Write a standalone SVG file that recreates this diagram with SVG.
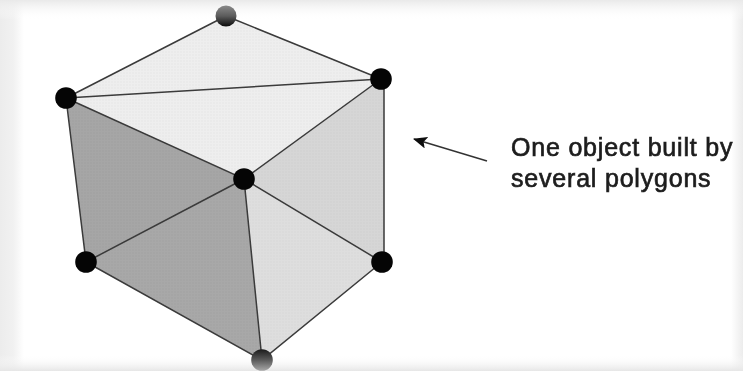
<svg xmlns="http://www.w3.org/2000/svg" width="743" height="371" viewBox="0 0 743 371">
<style>
.edge{stroke:#3a3a3a;stroke-width:1.5;fill:none;stroke-linecap:round}
.v{fill:#050505}
.lbl{font-family:"Liberation Sans",Arial,sans-serif;font-size:25px;letter-spacing:.8px;fill:#1c1c1c;stroke:#1c1c1c;stroke-width:.65px}
</style>
<defs>
<filter id="soft" x="-5%" y="-5%" width="110%" height="110%"><feGaussianBlur stdDeviation="0.55"/></filter>
<filter id="softtext" x="-5%" y="-15%" width="110%" height="130%"><feGaussianBlur stdDeviation="0.4"/></filter>
<pattern id="dots" width="3" height="3" patternUnits="userSpaceOnUse"><circle cx="1" cy="1" r=".7" fill="#000" fill-opacity=".035"/></pattern>
<linearGradient id="gl" x1="0" x2="1" y1="0" y2="0"><stop offset="0" stop-color="#ececec"/><stop offset=".55" stop-color="#f1f1f1"/><stop offset="1" stop-color="#fff"/></linearGradient>
<linearGradient id="gr" x1="1" x2="0" y1="0" y2="0"><stop offset="0" stop-color="#ececec"/><stop offset="1" stop-color="#fff"/></linearGradient>
<linearGradient id="gt" x1="0" x2="0" y1="0" y2="1"><stop offset="0" stop-color="#e9e9e9"/><stop offset="1" stop-color="#fff" stop-opacity="0"/></linearGradient>
<linearGradient id="gb" x1="0" x2="0" y1="1" y2="0"><stop offset="0" stop-color="#e6e6e6"/><stop offset="1" stop-color="#fff" stop-opacity="0"/></linearGradient>
<linearGradient id="ball" x1="0" x2="0" y1="0" y2="1"><stop offset="0" stop-color="#8a8a8a"/><stop offset=".5" stop-color="#5c5c5c"/><stop offset="1" stop-color="#0a0a0a"/></linearGradient>
<linearGradient id="ball2" x1="0" x2="0" y1="0" y2="1"><stop offset="0" stop-color="#1a1a1a"/><stop offset=".5" stop-color="#5a5a5a"/><stop offset="1" stop-color="#a8a8a8"/></linearGradient>
<marker id="ah" viewBox="0 0 14 12" refX="13" refY="6" markerWidth="14" markerHeight="12" markerUnits="userSpaceOnUse" orient="auto"><path d="M0 0L14 6L0 12L3 6Z" fill="#111"/></marker>
</defs>
<g id="background">
<rect width="743" height="371" fill="#fff"/>
<rect width="24" height="371" fill="url(#gl)"/>
<rect x="731" width="12" height="371" fill="url(#gr)"/>
<rect width="743" height="20" fill="url(#gt)"/>
<rect y="355" width="743" height="16" fill="url(#gb)"/>
</g>
<g id="faces" filter="url(#soft)">
<path d="M226 16L381 79L244 179L66 98Z" fill="#eeeeee"/>
<path d="M381 79L384 85L384 255L382 262L244 179Z" fill="#d6d6d6"/>
<path d="M244 179L382 262L262 360Z" fill="#dedede"/>
<path d="M66 98L244 179L86 262Z" fill="#a6a6a6"/>
<path d="M244 179L262 360L86 262Z" fill="#a8a8a8"/>
<path d="M226 16L381 79L384 85L384 255L382 262L262 360L86 262L66 98Z" fill="url(#dots)"/>
</g>
<g id="connectors" filter="url(#soft)">
<path class="edge" d="M226 16L66 98L86 262L262 360L382 262M384 255L384 85M381 79L226 16"/>
<path class="edge" d="M66 98L381 79M66 98L244 179L381 79M244 179L86 262M244 179L262 360M244 179L382 262"/>
<path d="M487 161L414 139" stroke="#333" stroke-width="1.5" fill="none" marker-end="url(#ah)"/>
</g>
<g id="node-top"><circle cx="226" cy="16" r="10.5" fill="url(#ball)"/></g>
<g id="node-right"><circle class="v" cx="381" cy="79" r="10.8"/></g>
<g id="node-left"><circle class="v" cx="66" cy="98" r="10.8"/></g>
<g id="node-center"><circle class="v" cx="244" cy="179" r="10.8"/></g>
<g id="node-bottom-left"><circle class="v" cx="86" cy="262" r="10.8"/></g>
<g id="node-bottom-right"><circle class="v" cx="382" cy="262" r="10.8"/></g>
<g id="node-bottom"><circle cx="262" cy="360" r="10.8" fill="url(#ball2)"/></g>
<g id="label" filter="url(#softtext)">
<text class="lbl" x="511" y="156">One object built by</text>
<text class="lbl" x="511" y="187">several polygons</text>
</g>
</svg>
